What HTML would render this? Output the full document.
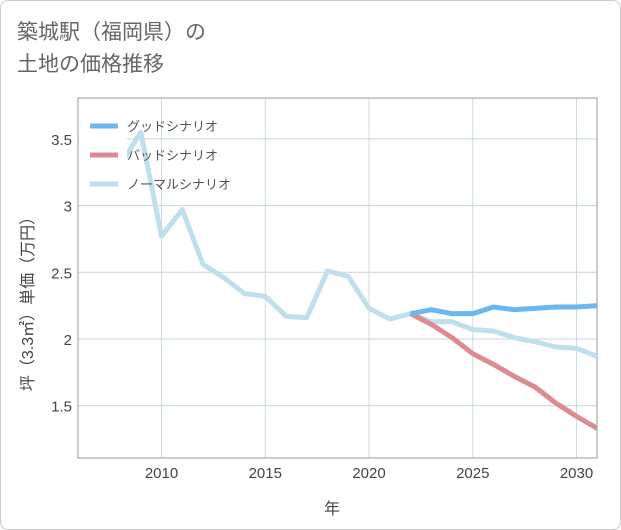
<!DOCTYPE html>
<html><head><meta charset="utf-8"><style>
body{margin:0;background:#fff;font-family:"Liberation Sans","Noto Sans CJK JP",sans-serif;}
#wrap{position:relative;width:619px;height:528px;border:1px solid #ccc;border-radius:8px;background:#fff;overflow:hidden}
#title{position:absolute;left:16px;top:16px;font-size:21px;line-height:32px;color:#666;}
</style></head><body>
<div id="wrap">
<div id="title">築城駅（福岡県）の<br>土地の価格推移</div>
<svg id="chart" width="621" height="530" style="position:absolute;left:-1px;top:-1px"></svg>
</div>
<script>
const years=[2008,2009,2010,2011,2012,2013,2014,2015,2016,2017,2018,2019,2020,2021,2022,2023,2024,2025,2026,2027,2028,2029,2030,2031];
const normal=[3.3,3.55,2.77,2.97,2.56,2.46,2.34,2.32,2.17,2.16,2.51,2.47,2.23,2.15,2.19,2.13,2.13,2.07,2.06,2.01,1.98,1.94,1.93,1.87];
const goodYears=[2022,2023,2024,2025,2026,2027,2028,2029,2030,2031];
const good=[2.19,2.22,2.19,2.19,2.24,2.22,2.23,2.24,2.24,2.25];
const bad=[2.19,2.11,2.01,1.89,1.81,1.72,1.64,1.52,1.42,1.33];
const xTicks=[2010,2015,2020,2025,2030];
const yTicks=[1.5,2,2.5,3,3.5];
const NS="http://www.w3.org/2000/svg";
const svg=document.getElementById('chart');
const L=78,R=597,T=98,B=458;
const x=v=>161.5+(v-2010)*20.75;
const y=v=>339-(v-2)*133.4;
function mk(t,a){const e=document.createElementNS(NS,t);for(const k in a)e.setAttribute(k,a[k]);svg.appendChild(e);return e;}
const defs=mk('defs',{});const cp=document.createElementNS(NS,'clipPath');cp.setAttribute('id','clip');
const cr=document.createElementNS(NS,'rect');cr.setAttribute('x',L);cr.setAttribute('y',T);cr.setAttribute('width',R-L);cr.setAttribute('height',B-T);cp.appendChild(cr);defs.appendChild(cp);
xTicks.forEach(t=>{
 const g=mk('line',{x1:x(t),x2:x(t),y1:T,y2:B,stroke:'#c9dde8','stroke-width':1});
 
 
 const tx=mk('text',{x:x(t),y:478,'text-anchor':'middle','font-size':15,fill:'#444'});tx.textContent=t;
 
 
});
yTicks.forEach(t=>{
 const g=mk('line',{x1:L,x2:R,y1:y(t),y2:y(t),stroke:'#c9d3dc','stroke-width':1});
 
 
 const tx=mk('text',{x:72,y:y(t)+6,'text-anchor':'end','font-size':15,fill:'#444'});tx.textContent=t;
 
 
});
const box=mk('rect',{x:L,y:T,width:R-L,height:B-T,fill:'none',stroke:'#999','stroke-width':1});


function line(xs,vs,color,name){
 const p=mk('polyline',{points:xs.map((yr,i)=>x(yr)+','+y(vs[i])).join(' '),fill:'none',stroke:color,'stroke-width':5,'stroke-linejoin':'round','clip-path':'url(#clip)'});
 
 
}
line(years,normal,'#bde0ec','normal-scenario-line');
line(goodYears,bad,'#de8a92','bad-scenario-line');
line(goodYears,good,'#6bb7ef','good-scenario-line');
const lb=mk('rect',{x:79,y:108,width:48,height:90,fill:'#fff'});


const leg=[['グッドシナリオ','#6bb7ef'],['バッドシナリオ','#de8a92'],['ノーマルシナリオ','#bde0ec']];
leg.forEach((l,i)=>{
 const yy=126+i*29;
 const s=mk('line',{x1:90,x2:118,y1:yy,y2:yy,stroke:l[1],'stroke-width':5});
 
 
 const t=mk('text',{x:127,y:yy+5,'font-size':13,fill:'#555'});t.textContent=l[0];
 
 
});
const xt=mk('text',{x:332,y:514,'text-anchor':'middle','font-size':16,fill:'#444'});xt.textContent='年';


const yt=mk('text',{x:0,y:0,'text-anchor':'middle','font-size':16,fill:'#444',transform:'translate(33,300) rotate(-90)'});yt.textContent='坪（3.3㎡）単価（万円）';


</script>
</body></html>
